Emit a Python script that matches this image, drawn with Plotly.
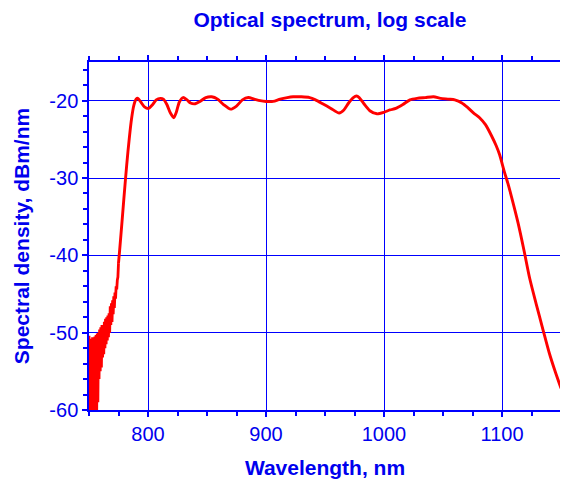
import plotly.graph_objects as go

# Noisy low-level region near the short-wavelength edge (nm, dBm/nm)
noise_wl = [750.0, 750.5, 751.0, 751.5, 752.0, 752.5, 753.0, 753.5, 754.0, 754.5,
            755.0, 755.5, 756.0, 756.5, 757.0, 757.5, 758.0, 758.5, 759.0, 759.5,
            760.0, 760.5, 761.0, 761.5, 762.0, 762.5, 763.0, 763.5, 764.0, 764.5,
            765.0, 765.5, 766.0, 766.5, 767.0, 767.5, 768.0, 768.5, 769.0, 769.5,
            770.0, 770.5, 771.0, 771.5, 772.0, 772.5, 773.0, 773.5, 774.0, 774.5,
            775.0]
noise_db = [-50.4, -62.0, -50.8, -61.0, -51.2, -62.0, -50.6, -61.5, -51.0, -62.0,
            -50.5, -61.0, -50.3, -60.5, -50.1, -59.0, -50.0, -56.0, -49.6, -55.0,
            -49.3, -54.5, -49.0, -53.2, -49.2, -52.8, -48.6, -52.0, -48.2, -51.5,
            -48.0, -51.0, -47.8, -50.6, -47.5, -50.0, -46.6, -49.0, -46.2, -48.6,
            -45.8, -47.6, -45.3, -46.8, -44.8, -45.6, -44.0, -44.4, -43.2, -42.8,
            -41.0]

# Main spectrum (nm, dBm/nm)
main_wl = [775.0, 776.0, 778.0, 781.0, 783.0, 786.0, 788.0, 790.0, 791.5, 794.0,
           797.0, 800.5, 804.0, 807.0, 810.5, 813.0, 816.0, 819.0, 821.8, 824.0,
           826.5, 829.7, 833.0, 836.0, 840.0, 844.0, 849.0, 854.0, 859.0, 864.0,
           870.0, 875.0, 880.0, 885.0, 890.0, 895.0, 900.0, 906.0, 912.0, 918.0,
           923.0, 930.0, 937.0, 942.0, 948.0, 955.0, 962.0, 966.0, 970.0, 974.0,
           976.7, 979.0, 983.0, 988.0, 994.0, 1000.0, 1005.0, 1010.0, 1016.0, 1022.0,
           1028.0, 1035.0, 1042.0, 1048.0, 1055.0, 1060.0, 1066.0, 1071.0, 1076.0, 1081.0,
           1086.0, 1091.0, 1095.0, 1098.0, 1102.0, 1105.0, 1108.0, 1113.6, 1118.7, 1123.5,
           1129.0, 1134.7, 1140.0, 1145.0, 1150.0]
main_db = [-41.0, -39.3, -35.6, -30.0, -26.6, -22.4, -20.6, -19.8, -19.7, -20.2,
           -20.8, -21.0, -20.5, -19.9, -19.7, -19.8, -20.5, -21.6, -22.2, -21.5,
           -20.2, -19.6, -19.9, -20.3, -20.4, -20.1, -19.6, -19.5, -19.8, -20.5,
           -21.1, -20.7, -19.9, -19.6, -19.8, -20.0, -20.1, -20.1, -19.8, -19.6,
           -19.5, -19.5, -19.6, -19.9, -20.4, -21.0, -21.6, -21.2, -20.3, -19.6,
           -19.4, -19.6, -20.4, -21.3, -21.7, -21.5, -21.2, -21.0, -20.5, -19.9,
           -19.7, -19.6, -19.5, -19.7, -19.8, -19.9, -20.3, -20.9, -21.6, -22.2,
           -23.1, -24.5, -25.8, -27.0, -29.2, -30.7, -32.4, -35.8, -39.4, -43.0,
           -46.3, -49.6, -52.6, -55.0, -57.2]

x_ticks = [800, 900, 1000, 1100]
y_ticks = [-60, -50, -40, -30, -20]

BLUE = "#0000ff"
TEXT = "#0000ee"
RED = "#ff0000"
FONT = "Liberation Sans, Arial, sans-serif"

fig = go.Figure()
fig.add_trace(go.Scatter(x=noise_wl, y=noise_db, mode="lines",
                         line=dict(color=RED, width=2.8), showlegend=False))
fig.add_trace(go.Scatter(x=main_wl, y=main_db, mode="lines",
                         line=dict(color=RED, width=2.9, shape="spline", smoothing=0.7),
                         showlegend=False))

axis_common = dict(
    showline=True, linecolor=BLUE, linewidth=1.5, mirror="allticks",
    showgrid=True, gridcolor=BLUE, gridwidth=1,
    zeroline=False, ticks="outside", ticklen=5, tickcolor=BLUE, tickwidth=1.5,
    tickfont=dict(family=FONT, size=20, color=TEXT),
    automargin=False,
)

fig.update_xaxes(
    range=[750, 1150], tickvals=x_ticks, ticktext=[str(v) for v in x_ticks],
    minor=dict(dtick=25, tick0=750, ticks="outside", ticklen=4, tickcolor=BLUE, showgrid=False),
    title=dict(text="<b>Wavelength, nm</b>", font=dict(family=FONT, size=21, color=TEXT), standoff=17),
    **axis_common,
)
fig.update_yaxes(
    range=[-60, -15], tickvals=y_ticks, ticktext=[str(v) for v in y_ticks],
    minor=dict(dtick=2, tick0=-60, ticks="outside", ticklen=4, tickcolor=BLUE, showgrid=False),
    title=dict(text="<b>Spectral density, dBm/nm</b>", font=dict(family=FONT, size=21, color=TEXT), standoff=14),
    **axis_common,
)

# The page body adds an 8 px offset, so the figure is 8 px smaller than the window.
fig.update_layout(
    width=560, height=474,
    margin=dict(l=81, r=7, t=54, b=72, autoexpand=False),
    paper_bgcolor="white", plot_bgcolor="white",
    title=dict(text="<b>Optical spectrum, log scale</b>", x=0.575, xanchor="center",
               y=1 - 12 / 474, yanchor="middle", yref="container",
               font=dict(family=FONT, size=21, color=TEXT)),
)

fig.write_html("out.html")
